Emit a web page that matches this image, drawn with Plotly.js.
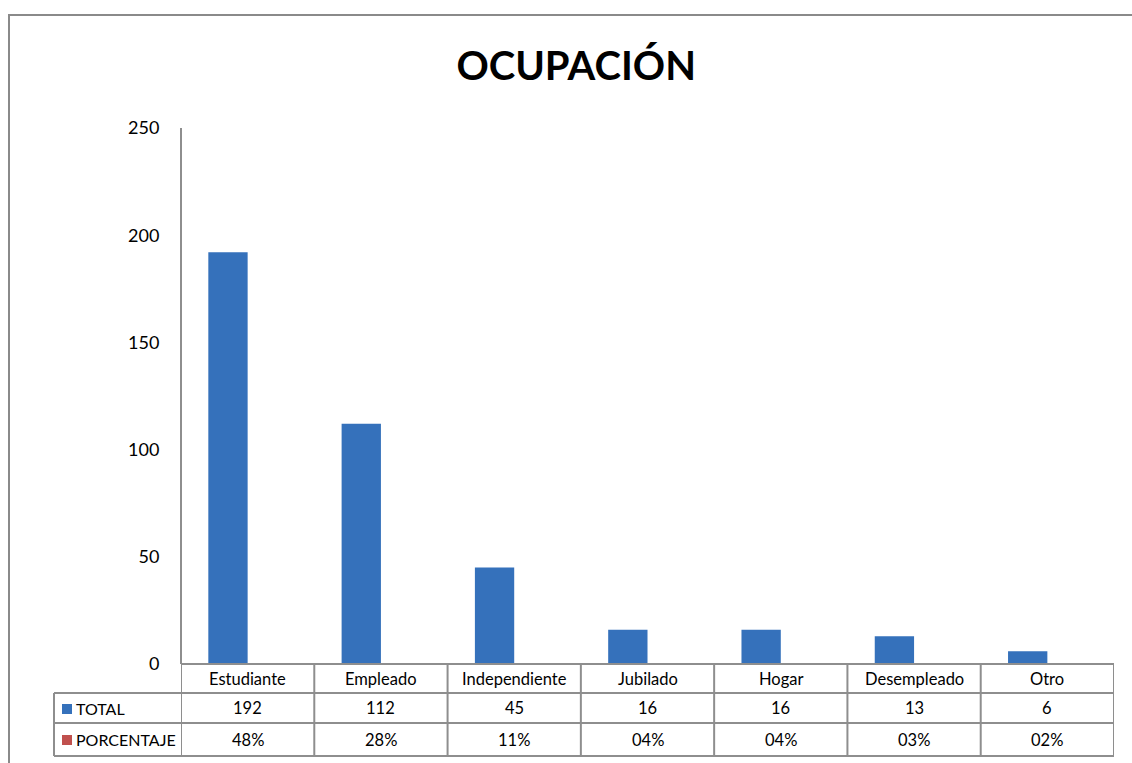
<!DOCTYPE html>
<html>
<head>
<meta charset="utf-8">
<script src="https://cdn.plot.ly/plotly-3.0.1.min.js"></script>
<style>html,body{margin:0;padding:0;background:#fff;}#chart{width:1132px;height:763px;}</style>
</head>
<body>
<div id="chart"></div>
<script>
const categories = ["Estudiante", "Empleado", "Independiente", "Jubilado", "Hogar", "Desempleado", "Otro"];
const totalValues = [192, 112, 45, 16, 16, 13, 6];
const pctValues = [0.48, 0.28, 0.11, 0.04, 0.04, 0.03, 0.02];
const pctLabels = ["48%", "28%", "11%", "04%", "04%", "03%", "02%"];
const seriesNames = ["TOTAL", "PORCENTAJE"];
const yTicks = [0, 50, 100, 150, 200, 250];

const FONT = "Lato, 'Open Sans', sans-serif";
const BLUE = "#3571BB";
const RED = "#C0504D";
const GRID = "#8E8E8E";

const xIdx = categories.map((c, i) => i);

const traces = [
  {type: "bar", x: xIdx, y: totalValues, name: seriesNames[0], marker: {color: BLUE}, hoverinfo: "skip"},
  {type: "bar", x: xIdx, y: pctValues, name: seriesNames[1], marker: {color: RED}, hoverinfo: "skip"}
];

const pyToPaper = py => (664 - py) / 536;
const pxToPaper = px => (px - 181) / 933;
const rowY = [664, 693, 723, 756].map(pyToPaper);

const shapes = [];
const lineStyle = {color: GRID, width: 2};
shapes.push({type: "rect", xref: "paper", yref: "paper", x0: pxToPaper(9), x1: pxToPaper(1140), y0: pyToPaper(775), y1: pyToPaper(15), line: {color: "#8A8A8A", width: 2}, fillcolor: "rgba(0,0,0,0)"});
shapes.push({type: "line", xref: "x", yref: "paper", x0: -0.5, x1: categories.length - 0.5, y0: rowY[0], y1: rowY[0], line: lineStyle});
for (let r = 1; r < rowY.length; r++) {
  shapes.push({type: "line", xref: "paper", yref: "paper", x0: pxToPaper(54), x1: 1, y0: rowY[r], y1: rowY[r], line: lineStyle});
}
shapes.push({type: "line", xref: "paper", yref: "paper", x0: pxToPaper(54), x1: pxToPaper(54), y0: rowY[1], y1: rowY[3], line: lineStyle});
for (let k = 0; k <= categories.length; k++) {
  shapes.push({type: "line", xref: "x", yref: "paper", x0: k - 0.5, x1: k - 0.5, y0: rowY[0], y1: rowY[3], line: lineStyle});
}
shapes.push({type: "line", xref: "paper", yref: "paper", x0: 0, x1: 0, y0: 0, y1: 1, line: lineStyle});
const keyColors = [BLUE, RED];
const keyRowsPx = [[704, 714], [735, 745]];
keyRowsPx.forEach((r, i) => {
  shapes.push({type: "rect", xref: "paper", yref: "paper", x0: pxToPaper(62), x1: pxToPaper(72), y0: pyToPaper(r[1]), y1: pyToPaper(r[0]), line: {width: 0}, fillcolor: keyColors[i]});
});

const annotations = [];
const cellFont = {family: FONT, size: 16.5, color: "#000"};
categories.forEach((c, i) => {
  annotations.push({xref: "x", yref: "paper", x: i, y: (rowY[0] + rowY[1]) / 2, text: c, showarrow: false, font: cellFont, xanchor: "center", yanchor: "middle"});
  annotations.push({xref: "x", yref: "paper", x: i, y: (rowY[1] + rowY[2]) / 2, text: String(totalValues[i]), showarrow: false, font: cellFont, xanchor: "center", yanchor: "middle"});
  annotations.push({xref: "x", yref: "paper", x: i, y: (rowY[2] + rowY[3]) / 2, text: pctLabels[i], showarrow: false, font: cellFont, xanchor: "center", yanchor: "middle"});
});
seriesNames.forEach((n, i) => {
  annotations.push({xref: "paper", yref: "paper", x: pxToPaper(74), y: (rowY[i + 1] + rowY[i + 2]) / 2, text: n, showarrow: false, font: {family: FONT, size: 16, color: "#000"}, xanchor: "left", yanchor: "middle"});
});

const layout = {
  width: 1132, height: 763,
  margin: {l: 181, r: 18, t: 128, b: 99},
  paper_bgcolor: "#fff", plot_bgcolor: "#fff",
  title: {text: "<b>OCUPACIÓN</b>", font: {family: FONT, size: 40, color: "#000"}, x: 0.509, xanchor: "center", y: 0.913, yanchor: "middle"},
  showlegend: false,
  barmode: "group", bargap: 0.41, bargroupgap: 0,
  xaxis: {range: [-0.5, categories.length - 0.5], showticklabels: false, showline: false, showgrid: false, zeroline: false, ticks: "", fixedrange: true},
  yaxis: {range: [0, 250], tickvals: yTicks, ticktext: yTicks.map(String), showline: false, showgrid: false, zeroline: false, ticks: "outside", ticklen: 17, tickcolor: "rgba(0,0,0,0)", tickfont: {family: FONT, size: 18, color: "#000"}, fixedrange: true},
  shapes: shapes,
  annotations: annotations
};

Plotly.newPlot("chart", traces, layout, {displayModeBar: false, staticPlot: true});
</script>
</body>
</html>
